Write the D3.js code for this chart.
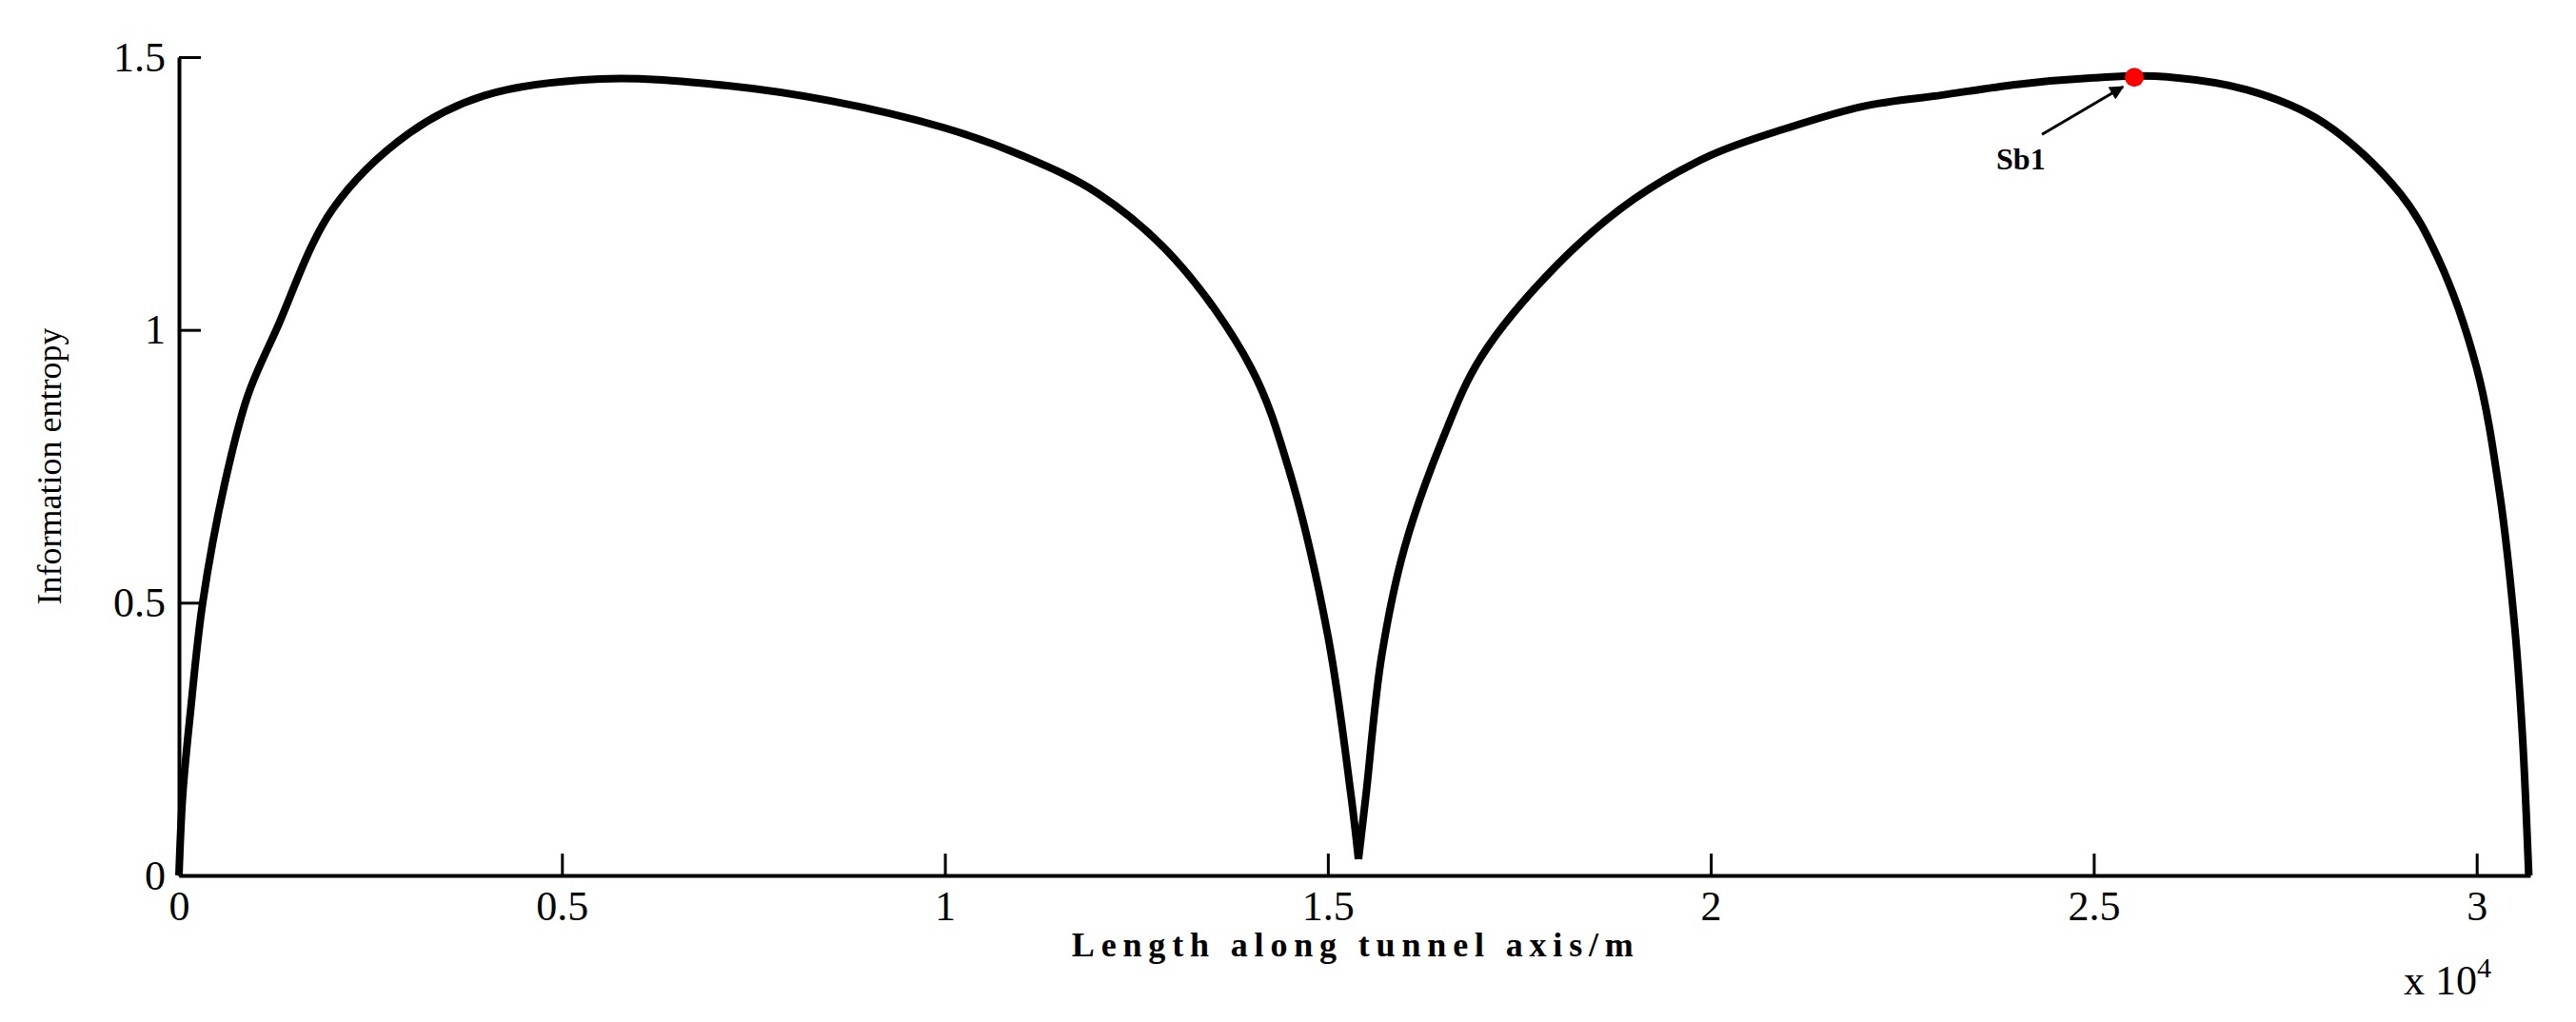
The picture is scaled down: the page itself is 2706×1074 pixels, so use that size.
<!DOCTYPE html><html><head><meta charset="utf-8">
<script src="https://cdn.jsdelivr.net/npm/d3@7"></script>
<style>body{margin:0;background:#fff}text{font-family:"Liberation Serif",serif}</style></head><body>
<svg id="c" width="2706" height="1074"></svg>
<script>
const xTicks=[0,0.5,1,1.5,2,2.5,3];
const yTicks=[0,0.5,1,1.5];
const xs=[0,0.005,0.015,0.031,0.06,0.09,0.127,0.2,0.3,0.4,0.55,0.7,0.85,1.0,1.1,1.2,1.3,1.4,1.45,1.5,1.53,1.54,1.55,1.57,1.6,1.65,1.7,1.8,1.9,2.0,2.1,2.2,2.3,2.4,2.5,2.58,2.7,2.8,2.9,2.95,3.0,3.03,3.05,3.06,3.068];
const ys=[0,0.15,0.3,0.5,0.72,0.88,1.0,1.22,1.36,1.43,1.46,1.45,1.42,1.37,1.32,1.25,1.13,0.93,0.74,0.44,0.15,0.03,0.15,0.4,0.6,0.8,0.95,1.12,1.24,1.32,1.37,1.41,1.43,1.45,1.462,1.465,1.44,1.38,1.25,1.13,0.93,0.7,0.45,0.25,0];
const marker={x:2.553,y:1.463,label:"Sb1"};
const svg=d3.select("#c");
const x=d3.scaleLinear().domain([0,3.07]).range([188,2658]);
const y=d3.scaleLinear().domain([0,1.5]).range([920,60]);
const xa=svg.append("g").attr("transform","translate(0,920)").call(d3.axisBottom(x).tickValues(xTicks).tickSizeInner(-23).tickSizeOuter(0).tickPadding(10).tickFormat(d=>d));
const ya=svg.append("g").attr("transform","translate(188,0)").call(d3.axisLeft(y).tickValues(yTicks).tickSizeInner(-23).tickSizeOuter(0).tickPadding(14).tickFormat(d=>d));
[xa,ya].forEach(a=>{a.select(".domain").attr("stroke","#000").attr("stroke-width",4);a.selectAll(".tick line").attr("stroke-width",3);a.selectAll("text").attr("font-size",44).attr("fill","#000").style("font-family","Liberation Serif");});
xa.selectAll("text").attr("dy","0.85em");
const pts=xs.map((v,i)=>[v,ys[i]]);
const l=d3.line().x(d=>x(d[0])).y(d=>y(d[1])).curve(d3.curveCatmullRom.alpha(0.5));
const L=pts.filter(p=>p[0]<=1.54),R=pts.filter(p=>p[0]>=1.54);
[L,R].forEach(p=>svg.append("path").attr("d",l(p)).attr("fill","none").attr("stroke","#000").attr("stroke-width",8).attr("stroke-linejoin","round"));
svg.append("defs").append("marker").attr("id","ah").attr("viewBox","0 0 10 10").attr("refX",9).attr("refY",5).attr("markerWidth",5).attr("markerHeight",5).attr("orient","auto").append("path").attr("d","M0,0L10,5L0,10z").attr("fill","#000");
svg.append("line").attr("x1",x(marker.x)-97).attr("y1",y(marker.y)+60).attr("x2",x(marker.x)-12).attr("y2",y(marker.y)+10).attr("stroke","#000").attr("stroke-width",3).attr("marker-end","url(#ah)");
svg.append("circle").attr("cx",x(marker.x)).attr("cy",y(marker.y)).attr("r",10).attr("fill","red");
svg.append("text").attr("x",x(marker.x)-145).attr("y",y(marker.y)+97).attr("font-size",32).attr("font-weight","bold").text(marker.label);
svg.append("text").attr("x",x(1.5)+26).attr("y",1005).attr("text-anchor","middle").attr("font-size",36).attr("font-weight","bold").attr("textLength",590).text("Length along tunnel axis/m");
svg.append("text").attr("transform","translate(64,490) rotate(-90)").attr("text-anchor","middle").attr("font-size",36).text("Information entropy");
const t=svg.append("text").attr("x",2525).attr("y",1045).attr("font-size",44);
t.append("tspan").text("x 10");t.append("tspan").attr("dy",-18).attr("font-size",30).text("4");
</script></body></html>
